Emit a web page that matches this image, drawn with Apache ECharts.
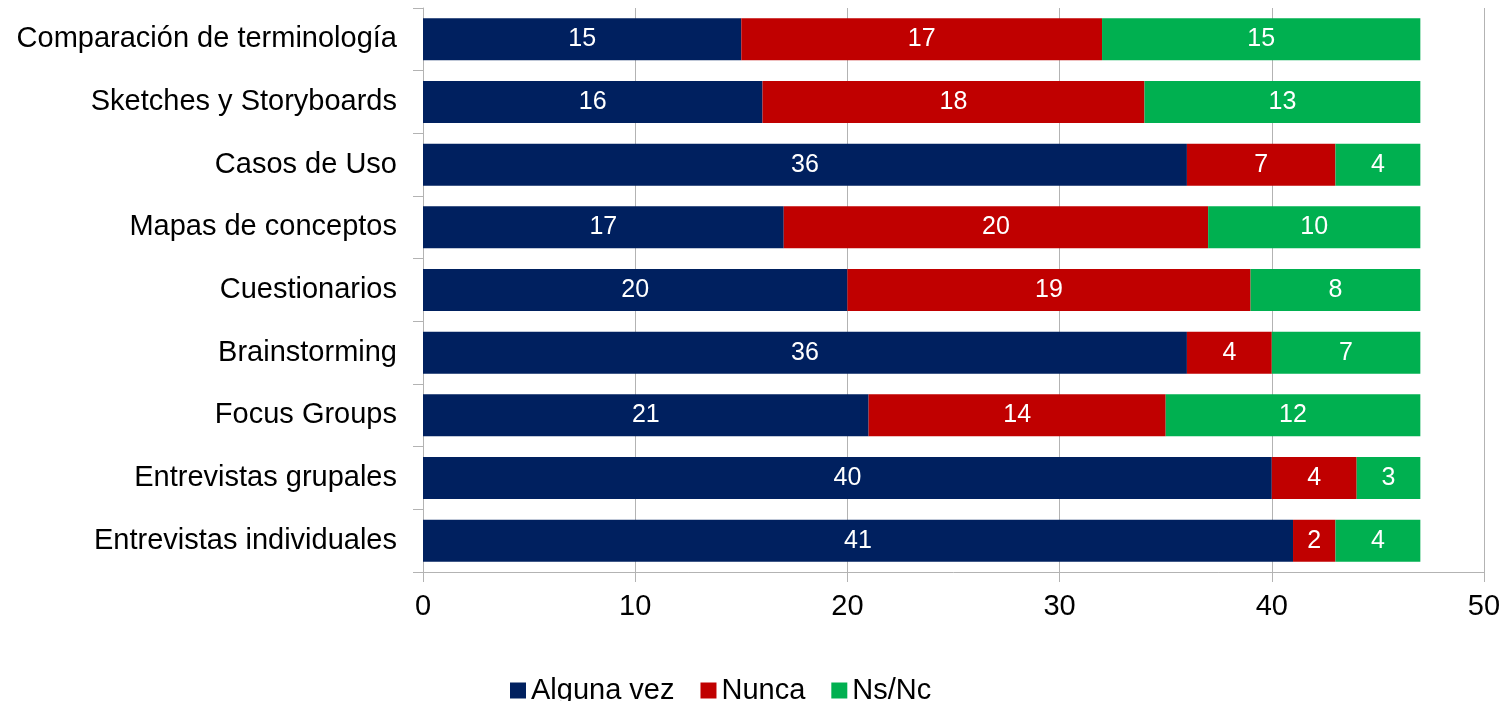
<!DOCTYPE html>
<html>
<head>
<meta charset="utf-8">
<script src="https://cdn.jsdelivr.net/npm/echarts@6/dist/echarts.min.js"></script>
<style>
  html, body { margin: 0; padding: 0; background: #fff; }
  #chart { width: 1511px; height: 701px; }
</style>
</head>
<body>
<div id="chart"></div>
<script>
  // categorias de arriba hacia abajo
  var categories = ['Comparación de terminología', 'Sketches y Storyboards', 'Casos de Uso',
    'Mapas de conceptos', 'Cuestionarios', 'Brainstorming', 'Focus Groups',
    'Entrevistas grupales', 'Entrevistas individuales'];
  var algunaVez = [15, 16, 36, 17, 20, 36, 21, 40, 41];
  var nunca = [17, 18, 7, 20, 19, 4, 14, 4, 2];
  var nsNc = [15, 13, 4, 10, 8, 7, 12, 3, 4];
  var xTicks = [0, 10, 20, 30, 40, 50];

  var chart = echarts.init(document.getElementById('chart'));
  var font = 'Liberation Sans, Arial, sans-serif';
  var barLabel = { show: true, position: 'inside', color: '#fff', fontSize: 25, fontFamily: font };

  function serie(name, data, color) {
    return {
      name: name, type: 'bar', stack: 'total', data: data,
      barWidth: '67%', itemStyle: { color: color },
      label: barLabel
    };
  }

  chart.setOption({
    animation: false,
    textStyle: { fontFamily: font },
    grid: { left: 423, right: 27, top: 8, bottom: 129 },
    legend: {
      left: 505, top: 671,
      itemWidth: 16, itemHeight: 16, itemGap: 26,
      icon: 'rect',
      textStyle: { fontSize: 29, color: '#000', fontFamily: font },
      data: ['Alguna vez', 'Nunca', 'Ns/Nc']
    },
    xAxis: {
      type: 'value', min: xTicks[0], max: xTicks[xTicks.length - 1], interval: 10,
      axisLine: { show: true, lineStyle: { color: '#b3b3b3' } },
      axisTick: { show: true, length: 10, lineStyle: { color: '#b3b3b3' } },
      splitLine: { show: true, lineStyle: { color: '#b3b3b3' } },
      axisLabel: { fontSize: 29, color: '#000', margin: 20 }
    },
    yAxis: {
      type: 'category', data: categories, inverse: true,
      axisLine: { show: true, lineStyle: { color: '#b3b3b3' } },
      axisTick: { show: true, length: 10, lineStyle: { color: '#b3b3b3' } },
      axisLabel: { fontSize: 29, color: '#000', margin: 26 }
    },
    series: [
      serie('Alguna vez', algunaVez, '#00205f'),
      serie('Nunca', nunca, '#c00000'),
      serie('Ns/Nc', nsNc, '#00b050')
    ]
  });
</script>
</body>
</html>
